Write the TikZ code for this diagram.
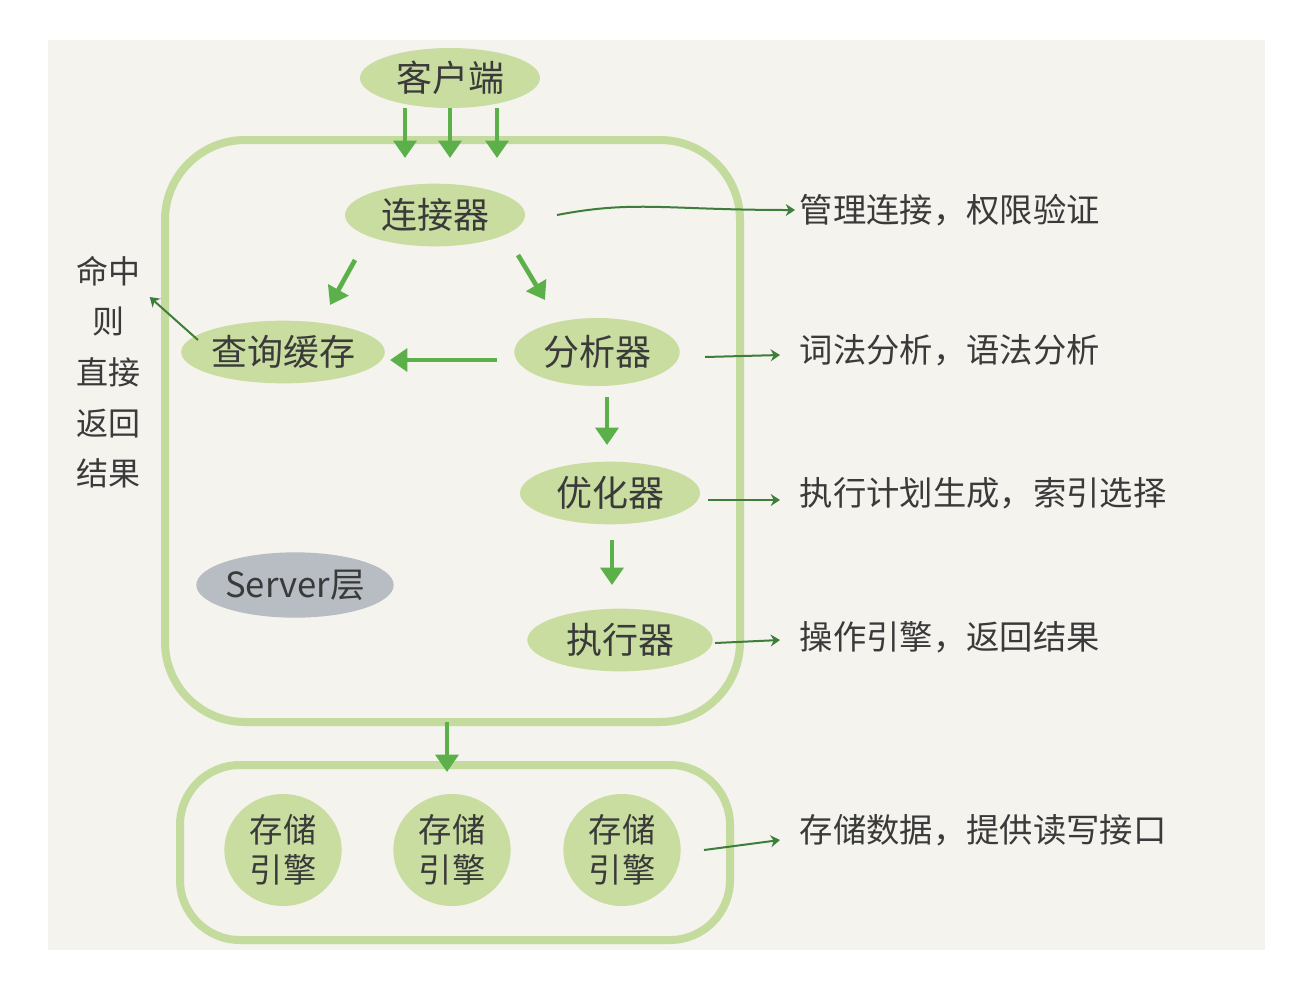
\documentclass[tikz,border=0pt]{standalone}
\usepackage{fontspec}
\setmainfont{Noto Sans CJK SC}
\usetikzlibrary{shapes.geometric,arrows.meta,calc}
\definecolor{paper}{HTML}{F4F3EE}
\definecolor{lg}{HTML}{C8DD9F}
\definecolor{lgb}{HTML}{C3DB9C}
\definecolor{ar}{HTML}{5CB04A}
\definecolor{dg}{HTML}{3E7E3A}
\definecolor{gr}{HTML}{B8BDC3}
\definecolor{tx}{HTML}{3A3A3A}
\begin{document}
\begin{tikzpicture}[x=0.75pt,y=-0.75pt,
 blob/.style={ellipse,fill=lg,inner sep=0pt,font=\fontsize{27}{30}\selectfont,text=tx},
 garrow/.style={-{Triangle[length=13pt,width=17pt]},draw=ar,line width=3.5pt},
 darrow/.style={-{Stealth[length=7pt,width=9pt]},draw=dg,line width=1.5pt},
 lbl/.style={anchor=west,font=\fontsize{25}{28}\selectfont,text=tx},
 frame/.style={draw=lgb,line width=6pt,rounded corners=60pt}]
\useasboundingbox (0,0) rectangle (1306,990);
\fill[white] (0,0) rectangle (1306,990);
\fill[paper] (48,40) rectangle (1265,950);
\draw[frame] (165,140) rectangle (740,722);
\draw[frame,rounded corners=45pt] (180,765) rectangle (730,940);
\node[blob,minimum width=135pt,minimum height=45pt] (kh) at (450,78) {客户端};
\node[blob,minimum width=135pt,minimum height=47pt] (lj) at (435,215) {连接器};
\node[blob,minimum width=135pt,minimum height=47pt] (cx) at (283,352) {查询缓存};
\node[blob,minimum width=124pt,minimum height=51pt] (fx) at (597,352) {分析器};
\node[blob,minimum width=135pt,minimum height=47pt] (yh) at (610,493) {优化器};
\node[blob,minimum width=139pt,minimum height=47pt] (zx) at (620,640) {执行器};
\node[ellipse,fill=gr,minimum width=135pt,minimum height=49pt,inner sep=0pt,font=\fontsize{26}{30}\selectfont,text=tx] (sv) at (295,585) {Server层};
\foreach \x/\n in {283/a,452/b,622/c}
 \node[blob,minimum width=88pt,minimum height=84pt,align=center,font=\fontsize{25}{30}\selectfont] (s\n) at (\x,850) {存储\\引擎};
% green arrows
\foreach \dx in {-45,0,47}
 \draw[garrow] ($(kh)+(\dx,30)$) -- ($(lj)+(\dx+15,-57)$);
\draw[garrow] ($(lj)+(-80,45)$) -- ($(cx)+(47,-47)$);
\draw[garrow] ($(lj)+(83,40)$) -- ($(fx)+(-52,-52)$);
\draw[garrow] ($(fx)+(-100,8)$) -- ($(cx)+(107,8)$);
\draw[garrow] ($(fx)+(10,45)$) -- ($(yh)+(-3,-48)$);
\draw[garrow] ($(yh)+(2,47)$) -- ($(zx)+(-8,-55)$);
\coordinate (sb) at (447,722);
\coordinate (bt) at (447,772);
\draw[garrow] (sb) -- (bt);
% labels
\node[lbl] (l1) at (795,210) {管理连接，权限验证};
\node[lbl] (l2) at (795,350) {词法分析，语法分析};
\node[lbl] (l3) at (795,493) {执行计划生成，索引选择};
\node[lbl] (l4) at (795,637) {操作引擎，返回结果};
\node[lbl] (l5) at (795,830) {存储数据，提供读写接口};
\node[font=\fontsize{24}{38}\selectfont,text=tx,align=center] (hit) at (108,372) {命中\\则\\直接\\返回\\结果};
% dark annotation arrows
\draw[darrow] ($(lj)+(122,0)$) .. controls ($(lj)+(200,-15)$) and ($(lj)+(230,-5)$) .. (l1.west);
\draw[darrow] ($(fx)+(108,5)$) -- ($(l2.west)+(-15,5)$);
\draw[darrow] ($(yh)+(98,7)$) -- ($(l3.west)+(-15,7)$);
\draw[darrow] ($(zx)+(95,3)$) -- ($(l4.west)+(-15,3)$);
\draw[darrow] ($(sc)+(82,0)$) -- ($(l5.west)+(-15,10)$);
\draw[darrow] ($(cx)+(-85,-12)$) -- ($(hit.east)+(5,-75)$);
\end{tikzpicture}
\end{document}
